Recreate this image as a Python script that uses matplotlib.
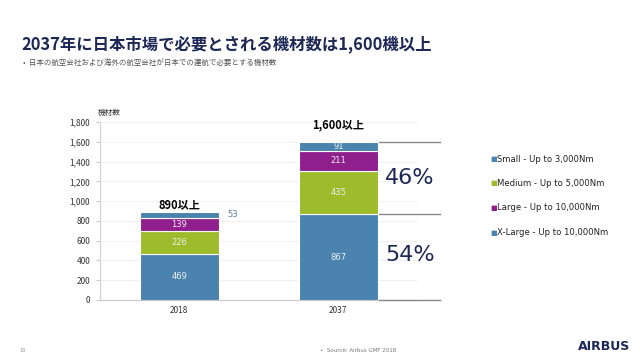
import numpy as np
import matplotlib.pyplot as plt
from matplotlib.ticker import FuncFormatter

plt.rcParams['font.family'] = ['Noto Sans CJK JP', 'DejaVu Sans']

years = ["2018", "2037"]
xlarge = [469, 867]
medium = [226, 435]
large = [139, 211]
small = [53, 91]
totals_text = ["890以上", "1,600以上"]
shares = ["54%", "46%"]

c_blue = "#4a83ad"
c_green = "#9dbb2a"
c_purple = "#8f1f8c"
navy = "#1c2755"

fig = plt.figure(figsize=(6.4, 3.6), dpi=100)
fig.patch.set_facecolor("white")
ax = fig.add_axes([0.156, 0.1667, 0.497, 0.494])

x = np.arange(len(years))
w = 0.5
segs = [(xlarge, c_blue), (medium, c_green), (large, c_purple), (small, c_blue)]
bottom = np.zeros(len(years))
for vals, col in segs:
    ax.bar(x, vals, w, bottom=bottom, color=col, edgecolor="white", linewidth=0.8, zorder=3)
    for i, v in enumerate(vals):
        if v < 60 and i == 0:
            ax.text(x[i] + w / 2 + 0.05, bottom[i] + v / 2, str(v), ha="left", va="center",
                    fontsize=6, color="#5a7fa0", family="DejaVu Sans")
        else:
            ax.text(x[i], bottom[i] + v / 2, str(v), ha="center", va="center",
                    fontsize=6, color="#f0f0f0", family="DejaVu Sans")
    bottom = bottom + np.array(vals)

# labels above bars (offsets as in the slide)
offs = [75, 165]
for i, t in enumerate(totals_text):
    ax.text(x[i], bottom[i] + offs[i], t, ha="center", va="center", fontsize=8,
            fontweight="bold", color="black")

ax.set_xlim(-0.5, 1.5)
ax.set_ylim(0, 1800)
ax.set_yticks(np.arange(0, 1801, 200))
ax.yaxis.set_major_formatter(FuncFormatter(lambda v, p: "{:,}".format(int(v))))
ax.set_xticks(x)
ax.set_xticklabels(years)
ax.tick_params(axis="both", labelsize=6, colors="#333333", length=0, pad=4)
ax.tick_params(axis="y", length=3, color="#cccccc")
ax.grid(axis="y", color="#eeeeee", linewidth=0.6, zorder=0)
for s in ["top", "right"]:
    ax.spines[s].set_visible(False)
ax.spines["left"].set_color("#d0d0d0")
ax.spines["bottom"].set_color("#c8c8c8")
ax.text(-0.44, 1850, "機材数", fontsize=5.5, color="#333333", ha="center", va="bottom")

# bracket lines and shares for 2037
edges = [0, xlarge[1], bottom[1]]
for y in edges:
    ax.plot([1.255, 1.64], [y, y], color="#8a8a8a", linewidth=1.0, clip_on=False, zorder=4)
ax.text(1.45, xlarge[1] / 2 + 20, shares[0], fontsize=16, color=navy, ha="center", va="center",
        family="DejaVu Sans")
ax.text(1.45, xlarge[1] + (bottom[1] - xlarge[1]) / 2, shares[1], fontsize=16, color=navy,
        ha="center", va="center", family="DejaVu Sans")

# legend
leg_items = [("Small - Up to 3,000Nm", c_blue), ("Medium - Up to 5,000Nm", c_green),
             ("Large - Up to 10,000Nm", c_purple), ("X-Large - Up to 10,000Nm", c_blue)]
for k, (lab, col) in enumerate(leg_items):
    yy = 1 - (159 + 24.5 * k) / 360
    fig.text(0.7656, yy, "■", color=col, fontsize=5, va="center", ha="left", family="DejaVu Sans")
    fig.text(0.777, yy, lab, color="#222222", fontsize=6.1, va="center", ha="left", family="DejaVu Sans")

fig.text(0.034, 1 - 45 / 360, "2037年に日本市場で必要とされる機材数は1,600機以上", fontsize=11.8,
         fontweight="bold", color=navy, va="center", ha="left")
fig.text(0.036, 1 - 63 / 360, "•  日本の航空会社および海外の航空会社が日本での運航で必要とする機材数",
         fontsize=5.4, color="#555555", va="center", ha="left")
fig.text(0.03, 1 - 350 / 360, "18", fontsize=4, color="#999999", va="center")
fig.text(0.5, 1 - 350 / 360, "•  Source: Airbus GMF 2018", fontsize=4, color="#777777", va="center",
         family="DejaVu Sans")
fig.text(0.985, 1 - 346 / 360, "AIRBUS", fontsize=9, fontweight="bold", color=navy, va="center",
         ha="right", family="DejaVu Sans")

fig.savefig("out.png", dpi=100)
